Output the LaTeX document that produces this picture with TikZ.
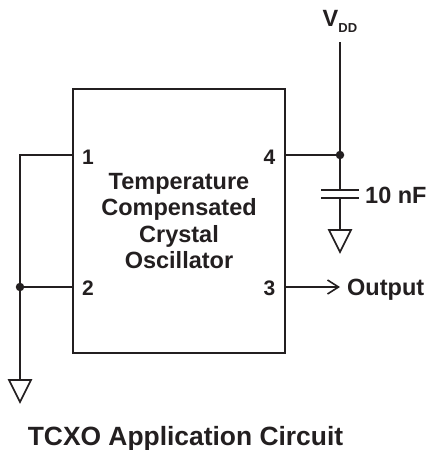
\documentclass[tikz,border=0pt]{standalone}
\usepackage{fontspec}
\setmainfont{Liberation Sans}
\usetikzlibrary{arrows.meta}
\definecolor{ink}{RGB}{35,31,32}
\begin{document}
\begin{tikzpicture}[x=1pt,y=-1pt,
  wire/.style={draw=ink,line width=1.8pt},
  body/.style={draw=ink,line width=1.6pt,minimum width=212pt,minimum height=264pt,inner sep=0pt},
  lbl/.style={text=ink,inner sep=0pt,font=\bfseries\fontsize{23.5}{26.5}\selectfont},
  pinlbl/.style={text=ink,inner sep=0pt,font=\bfseries\fontsize{21}{21}\selectfont,anchor=base},
  dotj/.style={circle,fill=ink,inner sep=0pt,minimum size=8.5pt},
  gnd/.style={draw=ink,line width=1.6pt,line join=miter}
]
\useasboundingbox (0,0) rectangle (429,450);

% IC body
\node[body] (ic) at (179,221) {};
\node[lbl,align=center] (name) at (179,221) {Temperature\\Compensated\\Crystal\\Oscillator};

% pin coordinates
\coordinate (p1) at (73,155);
\coordinate (p2) at (73,287);
\coordinate (p3) at (285,287);
\coordinate (p4) at (285,155);

\node[pinlbl] (l1) at (88,164) {1};
\node[pinlbl] (l2) at (88,295) {2};
\node[pinlbl] (l3) at (269.5,295) {3};
\node[pinlbl] (l4) at (269.5,164) {4};

% left ground net
\coordinate (c1) at (20,155);
\node[dotj] (j2) at (20,287) {};
\coordinate (g1) at (20,380);
\draw[wire] (p1) -- (c1) -- (j2.center) -- (g1);
\draw[wire] (p2) -- (j2.center);
\draw[gnd] (9,380) -- (31,380) -- (20,402) -- cycle;

% VDD net
\coordinate (vdd) at (340,42);
\node[dotj] (j4) at (340,155) {};
\coordinate (capA) at (340,190);
\coordinate (capB) at (340,198);
\coordinate (g2) at (340,230);
\draw[wire] (vdd) -- (j4.center) -- (capA);
\draw[wire] (p4) -- (j4.center);
\draw[wire] (321,190) -- (359,190);
\draw[wire] (321,198) -- (359,198);
\draw[wire] (capB) -- (g2);
\draw[gnd] (329,230) -- (351,230) -- (340,252) -- cycle;

\node[lbl,anchor=base west] (vlab) at (322.5,26) {V\raisebox{-6pt}{\fontsize{13}{13}\selectfont DD}};
\node[lbl,anchor=base west] (cval) at (365,203) {10 nF};

% output
\coordinate (out) at (340,287);
\draw[wire,-{Straight Barb[length=11pt,width=14pt,line width=1.6pt]}] (p3) -- (out);
\node[lbl,anchor=base west] (olab) at (347,295) {Output};

% title
\node[text=ink,inner sep=0pt,font=\bfseries\fontsize{26.4}{26.4}\selectfont,anchor=base] (title) at (185.5,445) {TCXO Application Circuit};
\end{tikzpicture}
\end{document}
